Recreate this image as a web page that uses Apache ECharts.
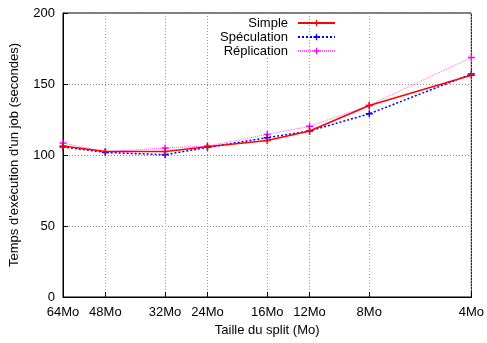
<!DOCTYPE html>
<html>
<head>
<meta charset="utf-8">
<script src="https://cdn.jsdelivr.net/npm/echarts@6/dist/echarts.min.js"></script>
<style>
  html, body { margin: 0; padding: 0; background: #fff; }
  #chart { width: 487px; height: 343px; }
</style>
</head>
<body>
<div id="chart"></div>
<script>
// split sizes in Mo (log2 x axis, reversed)
const splitSizes = [64, 48, 32, 24, 16, 12, 8, 4];
const simple = [106.3, 102.4, 102.4, 105.8, 110.2, 116.9, 134.9, 156.2];
const speculation = [105.6, 101.8, 100.2, 105.4, 112.2, 116.9, 129.0, 157.0];
const replication = [108.4, 102.3, 104.9, 106.3, 114.5, 120.2, 134.9, 168.7];
const yTicks = [0, 50, 100, 150, 200];

const plus = "path://M4,0H6V4H10V6H6V10H4V6H0V4H4Z";
const font = "Liberation Sans";

const chart = echarts.init(document.getElementById("chart"));

function pairs(values) {
  return splitSizes.map((s, i) => [s, values[i]]);
}

const option = {
  animation: false,
  textStyle: { fontFamily: font },
  grid: {
    left: 63,
    right: 12,
    top: 13,
    bottom: 46,
    show: true,
    borderColor: "#000",
    borderWidth: 1,
  },
  legend: {
    orient: "vertical",
    align: "right",
    right: 151,
    top: 16,
    itemWidth: 37,
    itemHeight: 8,
    itemGap: 0,
    padding: 0,
    textStyle: {
      fontSize: 13,
      color: "#000",
      fontFamily: font,
      lineHeight: 14,
      backgroundColor: "#fff",
      padding: [0, 5, 0, 0],
    },
    data: ["Simple", "Spéculation", "Réplication"],
  },
  xAxis: {
    type: "log",
    logBase: 2,
    min: 4,
    max: 64,
    inverse: true,
    name: "Taille du split (Mo)",
    nameLocation: "middle",
    nameGap: 26,
    nameTextStyle: { fontSize: 13, color: "#000", fontFamily: font },
    axisLine: { show: true, lineStyle: { color: "#000" } },
    axisTick: {
      inside: true,
      length: 5,
      customValues: splitSizes,
      lineStyle: { color: "#000" },
    },
    axisLabel: {
      fontSize: 13,
      color: "#000",
      margin: 9,
      customValues: splitSizes,
      formatter: (v) => v + "Mo",
    },
    splitLine: {
      show: true,
      lineStyle: { color: "#999", type: [1, 2] },
    },
  },
  yAxis: {
    type: "value",
    min: 0,
    max: 200,
    interval: 50,
    name: "Temps d'exécution d'un job (secondes)",
    nameLocation: "middle",
    nameGap: 42,
    nameTextStyle: { fontSize: 13, color: "#000", fontFamily: font },
    axisLine: { show: true, lineStyle: { color: "#000" } },
    axisTick: { show: true, inside: true, length: 5, lineStyle: { color: "#000" } },
    axisLabel: { fontSize: 13, color: "#000", margin: 8 },
    splitLine: {
      show: true,
      lineStyle: { color: "#888", type: [1, 2] },
    },
  },
  series: [
    {
      name: "Simple",
      type: "line",
      data: pairs(simple),
      symbol: plus,
      symbolSize: 7,
      itemStyle: { color: "#ff0000" },
      lineStyle: { color: "#ff0000", width: 1.5 },
      z: 4,
    },
    {
      name: "Spéculation",
      type: "line",
      data: pairs(speculation),
      symbol: plus,
      symbolSize: 7,
      itemStyle: { color: "#0000ff" },
      lineStyle: { color: "#0000ff", width: 1.5, type: [2, 2] },
      z: 3,
    },
    {
      name: "Réplication",
      type: "line",
      data: pairs(replication),
      symbol: plus,
      symbolSize: 7,
      itemStyle: { color: "#ff00ff" },
      lineStyle: { color: "#ff55ff", width: 1, type: [1, 1] },
      z: 2,
    },
  ],
};

chart.setOption(option);
</script>
</body>
</html>
